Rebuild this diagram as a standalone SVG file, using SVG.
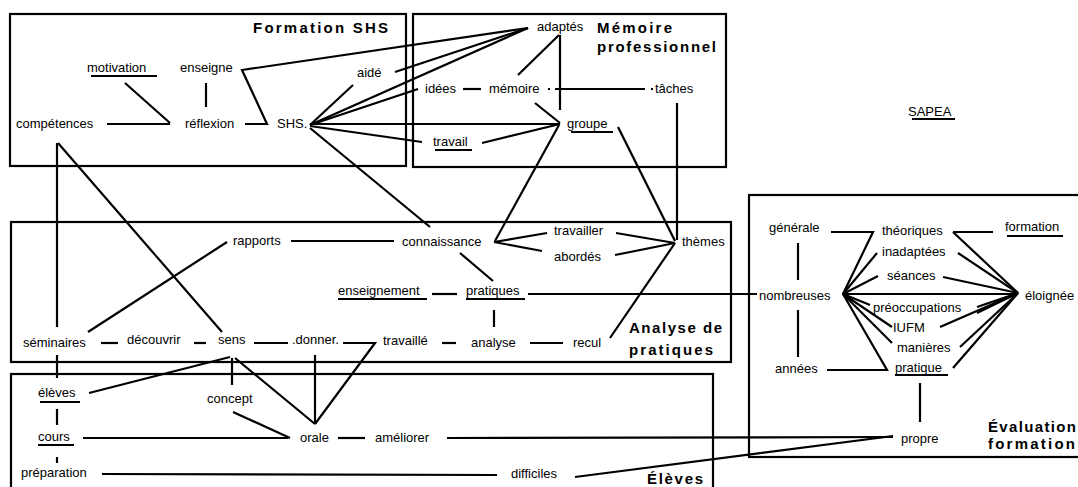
<svg xmlns="http://www.w3.org/2000/svg" width="1078" height="487" viewBox="0 0 1078 487">
<style>
.box{fill:none;stroke:#000;stroke-width:2.2}
.t{font-family:"Liberation Sans",Arial,sans-serif;font-size:13px;fill:#000}
.h{font-family:"Liberation Sans",Arial,sans-serif;font-size:15px;font-weight:bold;fill:#000}
#connectors line,#connectors polyline{stroke:#000;stroke-width:2.2;fill:none}
.u{stroke:#000;stroke-width:2}
</style>
<rect width="1078" height="487" fill="#fff"/>
<g id="clusters">
<g id="cl-formation"><rect class="box" x="10" y="14" width="396" height="152"/><text class="h" x="253" y="33" textLength="135" lengthAdjust="spacing">Formation SHS</text></g>
<g id="cl-memoire"><rect class="box" x="413" y="14" width="313" height="153"/><text class="h" x="597" y="33" textLength="75" lengthAdjust="spacing">Mémoire</text><text class="h" x="597" y="52" textLength="119" lengthAdjust="spacing">professionnel</text></g>
<g id="cl-analyse"><rect class="box" x="11" y="222" width="720" height="140"/><text class="h" x="629" y="333" textLength="93" lengthAdjust="spacing">Analyse de</text><text class="h" x="629" y="355" textLength="84" lengthAdjust="spacing">pratiques</text></g>
<g id="cl-eleves"><rect class="box" x="11" y="374" width="702" height="130"/><text class="h" x="647" y="484" textLength="56" lengthAdjust="spacing">Élèves</text></g>
<g id="cl-evaluation"><rect class="box" x="749" y="195" width="340" height="262"/><text class="h" x="988" y="432" textLength="88" lengthAdjust="spacing">Évaluation</text><text class="h" x="988" y="449" textLength="87" lengthAdjust="spacing">formation</text></g>
</g>
<g id="connectors">
<line x1="125" y1="83" x2="170" y2="123"/>
<line x1="206" y1="83" x2="206" y2="107"/>
<line x1="107" y1="124" x2="170" y2="124"/>
<polyline points="245,124 267,124 242,70 528,28"/>
<line x1="310" y1="125" x2="353" y2="85"/>
<line x1="395" y1="72" x2="528" y2="28"/>
<line x1="310" y1="125" x2="528" y2="28"/>
<line x1="310" y1="125" x2="418" y2="89"/>
<line x1="310" y1="124" x2="560" y2="124"/>
<line x1="310" y1="126" x2="422" y2="142"/>
<line x1="310" y1="128" x2="430" y2="227"/>
<line x1="57" y1="143" x2="57" y2="327"/>
<line x1="58" y1="143" x2="222" y2="332"/>
<line x1="463" y1="89" x2="481" y2="89"/>
<line x1="555" y1="89" x2="645" y2="89"/>
<line x1="548" y1="89" x2="550" y2="89"/>
<line x1="651" y1="89" x2="653" y2="89"/>
<line x1="559" y1="35" x2="518" y2="75"/>
<line x1="560" y1="35" x2="560" y2="110"/>
<line x1="535" y1="103" x2="560" y2="123"/>
<line x1="482" y1="143" x2="560" y2="124"/>
<line x1="559" y1="125" x2="495" y2="241"/>
<line x1="618" y1="127" x2="675" y2="241"/>
<line x1="677" y1="103" x2="677" y2="240"/>
<line x1="291" y1="241" x2="394" y2="241"/>
<line x1="227" y1="242" x2="88" y2="332"/>
<line x1="494" y1="242" x2="547" y2="233"/>
<line x1="494" y1="242" x2="542" y2="251"/>
<line x1="616" y1="233" x2="675" y2="243"/>
<line x1="615" y1="255" x2="675" y2="243"/>
<line x1="460" y1="253" x2="493" y2="281"/>
<line x1="432" y1="294" x2="457" y2="294"/>
<line x1="528" y1="294" x2="757" y2="294"/>
<line x1="494" y1="310" x2="494" y2="327"/>
<line x1="101" y1="343" x2="118" y2="343"/>
<line x1="194" y1="343" x2="206" y2="343"/>
<line x1="254" y1="343" x2="288" y2="343"/>
<polyline points="343,343 375,343 315,424"/>
<line x1="442" y1="343" x2="456" y2="343"/>
<line x1="530" y1="343" x2="563" y2="343"/>
<line x1="610" y1="338" x2="675" y2="243"/>
<line x1="315" y1="355" x2="315" y2="424"/>
<line x1="57" y1="355" x2="57" y2="378"/>
<line x1="57" y1="409" x2="57" y2="425"/>
<line x1="57" y1="457" x2="57" y2="463"/>
<line x1="89" y1="393" x2="230" y2="357"/>
<line x1="232" y1="358" x2="232" y2="385"/>
<line x1="235" y1="358" x2="315" y2="424"/>
<line x1="233" y1="412" x2="290" y2="438"/>
<line x1="83" y1="438" x2="288" y2="438"/>
<line x1="338" y1="438" x2="365" y2="438"/>
<line x1="447" y1="438" x2="893" y2="437"/>
<line x1="102" y1="474" x2="497" y2="475"/>
<line x1="575" y1="477" x2="893" y2="436"/>
<line x1="920" y1="383" x2="920" y2="422"/>
<polyline points="831,232 873,232 843,294"/>
<line x1="798" y1="243" x2="798" y2="280"/>
<line x1="798" y1="310" x2="798" y2="357"/>
<polyline points="827,370 887,370 843,294"/>
<line x1="953" y1="232" x2="993" y2="232"/>
<line x1="843" y1="294" x2="877" y2="253"/>
<line x1="843" y1="294" x2="878" y2="276"/>
<line x1="843" y1="294" x2="1017" y2="294"/>
<line x1="843" y1="294" x2="870" y2="305"/>
<line x1="843" y1="294" x2="892" y2="327"/>
<line x1="843" y1="294" x2="892" y2="343"/>
<line x1="953" y1="232" x2="1018" y2="293"/>
<line x1="958" y1="253" x2="1018" y2="293"/>
<line x1="943" y1="277" x2="1018" y2="293"/>
<line x1="977" y1="307" x2="1018" y2="293"/>
<line x1="977" y1="313" x2="1018" y2="293"/>
<line x1="940" y1="327" x2="1018" y2="293"/>
<line x1="960" y1="347" x2="1018" y2="293"/>
<line x1="953" y1="368" x2="1018" y2="293"/>
</g>
<g id="nodes">
<g id="n-motivation"><text class="t" x="87" y="72">motivation</text><line class="u" x1="91" y1="76" x2="157" y2="76"/></g>
<g id="n-enseigne"><text class="t" x="180" y="72">enseigne</text></g>
<g id="n-aide"><text class="t" x="357" y="77">aidé</text></g>
<g id="n-competences"><text class="t" x="16" y="128">compétences</text></g>
<g id="n-reflexion"><text class="t" x="185" y="128">réflexion</text></g>
<g id="n-shs"><text class="t" x="277" y="128">SHS.</text></g>
<g id="n-adaptes"><text class="t" x="537" y="31">adaptés</text></g>
<g id="n-idees"><text class="t" x="425" y="93">idées</text></g>
<g id="n-memoire"><text class="t" x="489" y="93">mémoire</text></g>
<g id="n-taches"><text class="t" x="655" y="93">tâches</text></g>
<g id="n-groupe"><text class="t" x="567" y="128">groupe</text><line class="u" x1="571" y1="132" x2="613" y2="132"/></g>
<g id="n-travail"><text class="t" x="433" y="146">travail</text><line class="u" x1="435" y1="150" x2="472" y2="150"/></g>
<g id="n-rapports"><text class="t" x="233" y="245">rapports</text></g>
<g id="n-connaissance"><text class="t" x="402" y="246">connaissance</text></g>
<g id="n-travailler"><text class="t" x="554" y="235">travailler</text></g>
<g id="n-abordes"><text class="t" x="554" y="261">abordés</text></g>
<g id="n-themes"><text class="t" x="682" y="246">thèmes</text></g>
<g id="n-enseignement"><text class="t" x="338" y="295">enseignement</text><line class="u" x1="338" y1="299" x2="427" y2="299"/></g>
<g id="n-pratiques"><text class="t" x="466" y="295">pratiques</text><line class="u" x1="466" y1="299" x2="525" y2="299"/></g>
<g id="n-seminaires"><text class="t" x="23" y="347">séminaires</text></g>
<g id="n-decouvrir"><text class="t" x="127" y="344">découvrir</text></g>
<g id="n-sens"><text class="t" x="218" y="344">sens</text></g>
<g id="n-donner"><text class="t" x="292" y="344">.donner.</text></g>
<g id="n-travaille"><text class="t" x="383" y="345">travaillé</text></g>
<g id="n-analyse"><text class="t" x="471" y="347">analyse</text></g>
<g id="n-recul"><text class="t" x="573" y="347">recul</text></g>
<g id="n-eleves"><text class="t" x="38" y="397">élèves</text><line class="u" x1="40" y1="402" x2="80" y2="402"/></g>
<g id="n-concept"><text class="t" x="207" y="403">concept</text></g>
<g id="n-cours"><text class="t" x="38" y="441">cours</text><line class="u" x1="38" y1="445" x2="74" y2="445"/></g>
<g id="n-orale"><text class="t" x="300" y="442">orale</text></g>
<g id="n-ameliorer"><text class="t" x="375" y="442">améliorer</text></g>
<g id="n-preparation"><text class="t" x="21" y="477">préparation</text></g>
<g id="n-difficiles"><text class="t" x="511" y="478">difficiles</text></g>
<g id="n-propre"><text class="t" x="901" y="443">propre</text></g>
<g id="n-sapea"><text class="t" x="908" y="116">SAPEA</text><line class="u" x1="912" y1="119" x2="955" y2="119"/></g>
<g id="n-generale"><text class="t" x="769" y="232">générale</text></g>
<g id="n-theoriques"><text class="t" x="882" y="235">théoriques</text></g>
<g id="n-formation"><text class="t" x="1005" y="231">formation</text><line class="u" x1="1007" y1="236" x2="1063" y2="236"/></g>
<g id="n-inadaptees"><text class="t" x="882" y="256">inadaptées</text></g>
<g id="n-seances"><text class="t" x="887" y="280">séances</text></g>
<g id="n-nombreuses"><text class="t" x="759" y="300">nombreuses</text></g>
<g id="n-eloignee"><text class="t" x="1025" y="300">éloignée</text></g>
<g id="n-preoccupations"><text class="t" x="873" y="312">préoccupations</text></g>
<g id="n-iufm"><text class="t" x="893" y="332">IUFM</text></g>
<g id="n-manieres"><text class="t" x="897" y="352">manières</text></g>
<g id="n-annees"><text class="t" x="775" y="373">années</text></g>
<g id="n-pratique"><text class="t" x="895" y="372">pratique</text><line class="u" x1="895" y1="375" x2="948" y2="375"/></g>
</g>
</svg>
